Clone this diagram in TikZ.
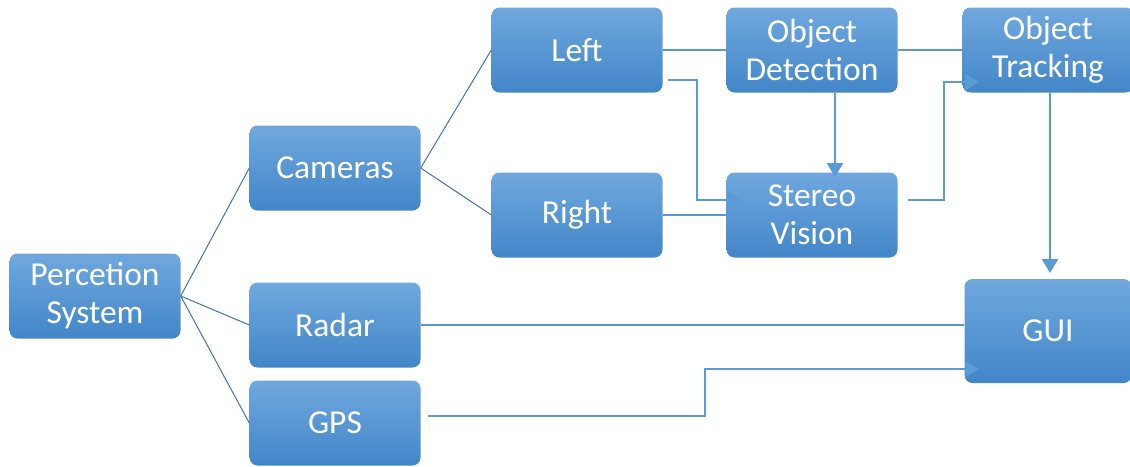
\documentclass[tikz,border=0pt]{standalone}
\usepackage{fontspec}
\setmainfont{Carlito}
\usetikzlibrary{arrows.meta}
\definecolor{boxtop}{RGB}{112,168,222}
\definecolor{boxbot}{RGB}{66,134,200}
\definecolor{treeline}{RGB}{68,114,176}
\definecolor{flatline}{RGB}{91,150,210}
\definecolor{arrline}{RGB}{91,155,213}
\tikzset{
  box/.style={rectangle, rounded corners=8pt, top color=boxtop, bottom color=boxbot,
    draw=none, text=white, minimum width=171pt, minimum height=85pt,
    align=center, inner sep=0pt, font=\fontsize{33.5}{38}\selectfont},
  tree/.style={draw=treeline, line width=1pt},
  flat/.style={draw=flatline, line width=1.2pt},
  arr/.style={draw=arrline, line width=2.6pt, -{Triangle[length=14pt,width=16pt]}},
}
\begin{document}
\begin{tikzpicture}[x=1pt,y=-1pt]
\useasboundingbox (0,0) rectangle (1130,466);
\node[box] (ps) at (95,296) {Percetion\\System};
\node[box] (cam) at (335,168) {Cameras};
\node[box] (rad) at (335,325) {Radar};
\node[box] (gps) at (335,423) {GPS};
\node[box] (left) at (577,50) {Left};
\node[box] (right) at (577,215) {Right};
\node[box] (od) at (812,50) {Object\\Detection};
\node[box] (sv) at (812,215) {Stereo\\Vision};
\node[box] (ot) at (1048,50) {Object\\Tracking};
\node[box, minimum width=167pt, minimum height=104pt] (gui) at (1048,331) {GUI};
% tree connectors
\draw[tree] (ps.east) -- (cam.west);
\draw[tree] (ps.east) -- (rad.west);
\draw[tree] (ps.east) -- (gps.west);
\draw[tree] (cam.east) -- (left.west);
\draw[tree] (cam.east) -- (right.west);
% flat connectors
\draw[flat] (left.east) -- (od.west);
\draw[flat] (od.east) -- (ot.west);
\draw[flat] (right.east) -- (sv.west);
\draw[flat] (rad.east) -- (rad.east -| gui.west);
% elbow arrows
\coordinate (l1) at (668,80);
\coordinate (s1) at (908,200);
\coordinate (g1) at (428,416);
\draw[arr] (l1) -- (697,80) -- (697,200) -- (742,200);
\draw[arr] (od.south -| 835,0) -- (835,177);
\draw[arr] (s1) -- (944,200) -- (944,82) -- (979,82);
\draw[arr] (ot.south -| 1050,0) -- (1050,273);
\draw[arr] (g1) -- (705,416) -- (705,369) -- (979,369);
\end{tikzpicture}
\end{document}
